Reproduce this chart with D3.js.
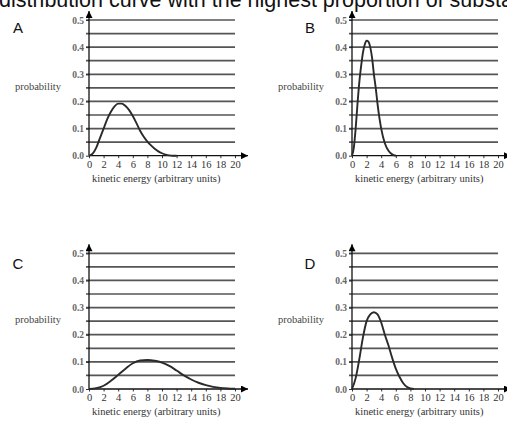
<!DOCTYPE html>
<html>
<head>
<meta charset="utf-8">
<script src="https://cdn.jsdelivr.net/npm/d3@7"></script>
<style>
  body { margin: 0; background: #fff; overflow: hidden; }
  svg { display: block; }
</style>
</head>
<body>
<div id="chart"></div>
<script>
// values
const panelNames = ['A', 'B', 'C', 'D']
const xTicks = [0, 2, 4, 6, 8, 10, 12, 14, 16, 18, 20]
const yTicks = [0.0, 0.1, 0.2, 0.3, 0.4, 0.5]
const gridValues = [0.05, 0.1, 0.15, 0.2, 0.25, 0.3, 0.35, 0.4, 0.45, 0.5]

const curveA = [
  [0, 0], [0.5, 0.008], [1, 0.03], [1.5, 0.065], [2, 0.1], [2.5, 0.135], [3, 0.162],
  [3.5, 0.182], [4, 0.192], [4.5, 0.192], [5, 0.183], [5.5, 0.168], [6, 0.146],
  [6.5, 0.12], [7, 0.092], [7.5, 0.07], [8, 0.052], [8.5, 0.038], [9, 0.026],
  [9.5, 0.016], [10, 0.009], [10.5, 0.004], [11, 0.001], [11.5, 0], [12, 0],
]
const curveB = [
  [0, 0], [0.25, 0.03], [0.5, 0.1], [0.75, 0.19], [1, 0.27], [1.25, 0.33], [1.5, 0.38],
  [1.75, 0.41], [2, 0.424], [2.25, 0.42], [2.5, 0.4], [2.75, 0.36], [3, 0.3],
  [3.25, 0.25], [3.5, 0.19], [3.75, 0.14], [4, 0.1], [4.5, 0.046], [5, 0.018],
  [5.5, 0.005], [6, 0],
]
const curveC = [
  [0, 0], [1, 0.003], [2, 0.012], [3, 0.03], [4, 0.052], [5, 0.075], [6, 0.095],
  [7, 0.105], [8, 0.107], [9, 0.104], [10, 0.097], [11, 0.085], [12, 0.068],
  [13, 0.05], [14, 0.035], [15, 0.023], [16, 0.014], [17, 0.008], [18, 0.004],
  [19, 0.002], [20, 0.001],
]
const curveD = [
  [0, 0], [0.5, 0.04], [1, 0.11], [1.5, 0.19], [2, 0.25], [2.5, 0.275], [3, 0.283],
  [3.5, 0.275], [4, 0.245], [4.5, 0.2], [5, 0.16], [5.5, 0.115], [6, 0.075],
  [6.5, 0.045], [7, 0.022], [7.5, 0.008], [8, 0.002], [8.5, 0],
]
const curves = [curveA, curveB, curveC, curveD]

const width = 507
const height = 423
const serif = '"Liberation Serif", "Times New Roman", serif'
const sans = 'Arial, "Liberation Sans", sans-serif'

const svg = d3
  .select('#chart')
  .append('svg')
  .attr('width', width)
  .attr('height', height)

// question text, only its lower half shows at the top
svg
  .append('text')
  .attr('x', -1)
  .attr('y', 7)
  .style('font-family', sans)
  .style('font-size', '21.5px')
  .attr('fill', '#111')
  .text('distribution curve with the highest proportion of substance')

// plot area of each panel: left edge, top (0.5) and bottom (0.0)
const panels = [
  { left: 89, top: 20, bottom: 155.7, letterDy: 0 },
  { left: 352, top: 20, bottom: 155.7, letterDy: 0 },
  { left: 89, top: 253.3, bottom: 389, letterDy: 3 },
  { left: 352, top: 253.3, bottom: 389, letterDy: 3 },
]
const plotWidth = 146

svg
  .append('defs')
  .append('marker')
  .attr('id', 'arrow')
  .attr('viewBox', '0 0 10 10')
  .attr('refX', 10)
  .attr('refY', 5)
  .attr('markerWidth', 8)
  .attr('markerHeight', 7)
  .attr('markerUnits', 'userSpaceOnUse')
  .attr('orient', 'auto')
  .append('path')
  .attr('d', 'M0,0L10,5L0,10Z')
  .attr('fill', '#000')

panels.forEach((p, i) => {
  const x = d3.scaleLinear().domain([0, 20]).range([p.left, p.left + plotWidth])
  const y = d3.scaleLinear().domain([0, 0.5]).range([p.bottom, p.top])
  const g = svg.append('g')

  // horizontal rules
  g.selectAll('.grid')
    .data(gridValues)
    .join('line')
    .attr('x1', x(0) - 3)
    .attr('x2', x(20))
    .attr('y1', (d) => y(d))
    .attr('y2', (d) => y(d))
    .attr('stroke', '#555')
    .attr('stroke-width', 1.7)

  // x axis with small ticks below
  const xAxis = g
    .append('g')
    .attr('transform', `translate(0,${y(0)})`)
    .call(d3.axisBottom(x).tickValues(xTicks).tickSize(2.5).tickSizeOuter(0).tickPadding(2.5))
  xAxis.select('.domain').remove()
  xAxis.selectAll('line').attr('stroke', '#333')
  xAxis
    .selectAll('text')
    .style('font-family', serif)
    .style('font-size', '10.5px')
    .attr('fill', '#333')

  const yAxis = g
    .append('g')
    .attr('transform', `translate(${x(0)},0)`)
    .call(d3.axisLeft(y).tickValues(yTicks).tickFormat(d3.format('.1f')).tickSize(3).tickPadding(2))
  yAxis.select('.domain').remove()
  yAxis.selectAll('line').attr('stroke', '#333')
  yAxis
    .selectAll('text')
    .style('font-family', serif)
    .style('font-size', '9.5px')
    .style('font-weight', 'bold')
    .attr('fill', '#666')

  // axis lines with arrow heads
  g.append('line')
    .attr('x1', x(0))
    .attr('x2', x(20) + 13)
    .attr('y1', y(0))
    .attr('y2', y(0))
    .attr('stroke', '#111')
    .attr('stroke-width', 1.3)
    .attr('marker-end', 'url(#arrow)')
  g.append('line')
    .attr('x1', x(0))
    .attr('x2', x(0))
    .attr('y1', y(0))
    .attr('y2', y(0.5) - 9)
    .attr('stroke', '#111')
    .attr('stroke-width', 1.3)
    .attr('marker-end', 'url(#arrow)')

  const line = d3
    .line()
    .x((d) => x(d[0]))
    .y((d) => y(d[1]))
    .curve(d3.curveMonotoneX)
  g.append('path')
    .datum(curves[i])
    .attr('d', line)
    .attr('fill', 'none')
    .attr('stroke', '#2a2a2a')
    .attr('stroke-width', 1.9)

  g.append('text')
    .attr('x', x(0) + 3)
    .attr('y', y(0) + 26)
    .style('font-family', serif)
    .style('font-size', '10.5px')
    .attr('fill', '#333')
    .text('kinetic energy (arbitrary units)')

  g.append('text')
    .attr('x', x(0) - 28)
    .attr('y', y(0.25) + 2)
    .attr('text-anchor', 'end')
    .style('font-family', serif)
    .style('font-size', '10.5px')
    .attr('fill', '#444')
    .text('probability')

  g.append('text')
    .attr('x', x(0) - (i % 2 === 0 ? 71 : 42))
    .attr('y', y(0.5) + 12.5 + p.letterDy)
    .attr('text-anchor', 'middle')
    .style('font-family', sans)
    .style('font-size', '15px')
    .attr('fill', '#111')
    .text(panelNames[i])
})
</script>
</body>
</html>
